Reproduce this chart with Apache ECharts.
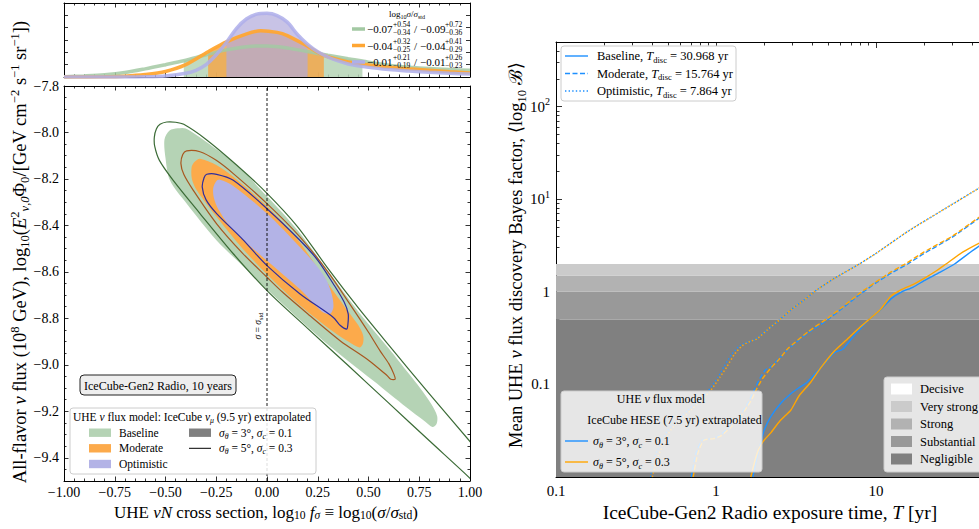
<!DOCTYPE html>
<html><head><meta charset="utf-8"><title>chart</title>
<script src="https://cdn.jsdelivr.net/npm/echarts@6.0.0/dist/echarts.min.js"></script>
<style>html,body{margin:0;padding:0;background:#fff;}#chart{width:979px;height:529px;}</style>
</head><body><div id="chart"></div><script>
// ================= DATA =================
// Top marginal panel: posterior of log10 f_sigma
const margBaseline = [[-1.0,0.03],[-0.9,0.09],[-0.8,0.18],[-0.7,0.36],[-0.6,0.66],[-0.5,1.0],[-0.41,1.32],[-0.3,1.8],[-0.2,2.2],[-0.1,2.45],[-0.05,2.52],[0.0,2.52],[0.1,2.36],[0.2,2.06],[0.3,1.76],[0.4,1.48],[0.47,1.3],[0.5,1.2],[0.6,0.96],[0.7,0.8],[0.8,0.68],[0.9,0.6],[1.0,0.54]];
const margModerate = [[-1.0,0.0],[-0.8,0.02],[-0.7,0.07],[-0.6,0.2],[-0.5,0.45],[-0.4,1.0],[-0.29,2.05],[-0.2,2.85],[-0.1,3.5],[-0.03,3.76],[0.05,3.62],[0.1,3.36],[0.2,2.5],[0.28,1.75],[0.4,1.22],[0.5,0.98],[0.6,0.8],[0.7,0.66],[0.8,0.54],[0.9,0.42],[1.0,0.32]];
const margOptimistic = [[-1.0,0.0],[-0.7,0.0],[-0.6,0.02],[-0.5,0.09],[-0.4,0.3],[-0.35,0.54],[-0.3,1.0],[-0.25,1.8],[-0.2,2.8],[-0.15,3.95],[-0.1,4.72],[-0.05,5.1],[0.0,5.16],[0.05,4.98],[0.1,4.45],[0.15,3.45],[0.2,2.65],[0.25,2.05],[0.3,1.62],[0.35,1.3],[0.4,1.06],[0.5,0.78],[0.6,0.6],[0.7,0.48],[0.8,0.38],[0.9,0.3],[1.0,0.24]];
const intBaseline = [-0.41, 0.47];
const intModerate = [-0.29, 0.28];
const intOptimistic = [-0.20, 0.20];
const margMed = [['\u22120.07','\u22120.09'],['\u22120.04','\u22120.04'],['\u22120.01','\u22120.01']];
const margUp  = [['+0.54','+0.72'],['+0.32','+0.41'],['+0.21','+0.26']];
const margLo  = [['\u22120.34','\u22120.36'],['\u22120.25','\u22120.29'],['\u22120.19','\u22120.23']];

// Main left panel: credible contours (log10 f_sigma, log10 flux)
const baselineFill = [[-0.505,-8.03],[-0.48,-7.992],[-0.44,-7.982],[-0.40,-7.983],[-0.30,-8.04],[-0.15,-8.14],[0.0,-8.275],[0.15,-8.42],[0.3,-8.595],[0.45,-8.77],[0.6,-8.93],[0.7,-9.04],[0.754,-9.1],[0.81,-9.17],[0.838,-9.22],[0.835,-9.255],[0.815,-9.268],[0.78,-9.245],[0.688,-9.184],[0.524,-9.069],[0.277,-8.896],[0.015,-8.688],[-0.1,-8.59],[-0.248,-8.465],[-0.396,-8.306],[-0.478,-8.206],[-0.5,-8.11]];
const baselineLine = [[-0.555,-8.02],[-0.545,-7.985],[-0.527,-7.965],[-0.494,-7.955],[-0.45,-7.956],[-0.41,-7.965],[-0.3,-8.03],[-0.15,-8.14],[0.0,-8.262],[0.15,-8.405],[0.3,-8.585],[0.45,-8.755],[0.6,-8.915],[0.8,-9.125],[1.0,-9.33],[1.12,-9.45],[1.12,-9.59],[1.0,-9.488],[0.8,-9.327],[0.6,-9.165],[0.4,-9.003],[0.2,-8.843],[0.005,-8.685],[-0.166,-8.522],[-0.33,-8.349],[-0.462,-8.206],[-0.53,-8.12],[-0.553,-8.06]];
const moderateFill = [[-0.371,-8.148],[-0.355,-8.125],[-0.33,-8.113],[-0.25,-8.14],[-0.166,-8.191],[0.0,-8.318],[0.15,-8.46],[0.3,-8.65],[0.4,-8.77],[0.45,-8.83],[0.474,-8.875],[0.472,-8.91],[0.455,-8.925],[0.4,-8.9],[0.3,-8.84],[0.15,-8.735],[0.0,-8.61],[-0.12,-8.5],[-0.248,-8.364],[-0.346,-8.249],[-0.37,-8.2]];
const moderateLine = [[-0.424,-8.134],[-0.415,-8.095],[-0.396,-8.079],[-0.33,-8.083],[-0.25,-8.12],[-0.166,-8.177],[0.0,-8.306],[0.163,-8.45],[0.3,-8.6],[0.409,-8.74],[0.5,-8.86],[0.557,-8.94],[0.6,-8.995],[0.625,-9.04],[0.631,-9.062],[0.61,-9.062],[0.59,-9.045],[0.5,-8.98],[0.36,-8.896],[0.2,-8.78],[0.08,-8.69],[0.0,-8.623],[-0.12,-8.52],[-0.248,-8.393],[-0.363,-8.249],[-0.41,-8.18]];
const optimisticFill = [[-0.265,-8.24],[-0.25,-8.21],[-0.232,-8.203],[-0.166,-8.23],[0.0,-8.349],[0.163,-8.494],[0.25,-8.58],[0.294,-8.637],[0.32,-8.7],[0.327,-8.752],[0.31,-8.781],[0.27,-8.77],[0.163,-8.675],[0.0,-8.552],[-0.166,-8.422],[-0.24,-8.33],[-0.262,-8.28]];
const optimisticLine = [[-0.319,-8.235],[-0.31,-8.195],[-0.297,-8.18],[-0.248,-8.18],[-0.166,-8.206],[0.0,-8.328],[0.163,-8.465],[0.25,-8.55],[0.327,-8.652],[0.38,-8.73],[0.4,-8.781],[0.398,-8.83],[0.392,-8.846],[0.36,-8.83],[0.327,-8.796],[0.163,-8.695],[0.0,-8.573],[-0.12,-8.46],[-0.248,-8.349],[-0.3,-8.29]];
const sigmaStdLine = [[0,-9.5],[0,-7.8]];

// Right panel: mean log10 Bayes factor vs exposure time T [yr]
const optBlue = [[0.39,0.01],[0.41,0.016],[0.5,0.032],[0.67,0.053],[0.89,0.085],[1.03,0.12],[1.12,0.155],[1.25,0.21],[1.4,0.26],[1.6,0.29],[1.75,0.305],[2.1,0.39],[2.5,0.5],[2.94,0.64],[3.5,0.8],[4.3,1.06],[5.5,1.4],[7.864,2.0],[10,2.6],[15.8,4.5],[25,7.3],[44.7,13.4],[50,15]];
const optOrange = [[0.4,0.01],[0.43,0.016],[0.52,0.032],[0.7,0.053],[0.92,0.085],[1.06,0.12],[1.17,0.155],[1.3,0.21],[1.45,0.26],[1.62,0.29],[1.8,0.31],[2.1,0.39],[2.5,0.5],[2.94,0.64],[3.5,0.8],[4.3,1.06],[5.5,1.4],[7.864,2.0],[10,2.6],[15.8,4.5],[25,7.3],[44.7,13.4],[50,15]];
const modBlue = [[0.7,0.01],[0.75,0.018],[0.82,0.025],[0.95,0.026],[1.05,0.028],[1.2,0.034],[1.4,0.045],[1.6,0.065],[1.75,0.09],[1.9,0.12],[2.05,0.145],[2.15,0.15],[2.4,0.18],[2.82,0.24],[3.76,0.36],[5,0.5],[6,0.64],[8,0.95],[10,1.25],[12.5,1.6],[15.764,2.0],[20,2.6],[30,3.9],[44.7,6.35],[50,7.1]];
const modOrange = [[0.72,0.01],[0.77,0.018],[0.84,0.025],[0.97,0.026],[1.08,0.028],[1.25,0.035],[1.45,0.047],[1.65,0.066],[1.8,0.09],[1.95,0.115],[2.2,0.15],[2.5,0.19],[2.82,0.245],[3.76,0.37],[5,0.52],[6,0.66],[8,0.98],[10,1.28],[12.5,1.65],[15.2,2.0],[20,2.7],[30,4.0],[44.7,6.5],[50,7.3]];
const baseBlue = [[1.7,0.01],[1.8,0.016],[1.9,0.023],[2.0,0.032],[2.2,0.045],[2.55,0.063],[2.9,0.078],[3.3,0.092],[3.7,0.105],[4.5,0.15],[5.5,0.22],[6.2,0.24],[7,0.31],[8,0.4],[9,0.5],[10.7,0.64],[12.5,0.85],[14.5,1.0],[17,1.12],[20,1.32],[25,1.62],[30.968,2.0],[38,2.6],[44.7,3.17],[50,3.5]];
const baseOrange = [[1.65,0.01],[1.75,0.015],[1.85,0.02],[2.0,0.025],[2.2,0.03],[2.5,0.04],[2.94,0.053],[3.3,0.075],[3.9,0.105],[4.5,0.15],[5.5,0.23],[6.5,0.3],[8,0.42],[9,0.5],[10.7,0.65],[12.4,0.9],[14.3,1.05],[17,1.2],[20,1.4],[24,1.7],[27.4,2.0],[35,2.7],[44.7,3.4],[50,3.7]];
const bandLo = [0.01, 0.5, 1.0, 1.5];
const bandHi = [0.5, 1.0, 1.5, 2.0];
const bandNames = ['Decisive','Very strong','Strong','Substantial','Negligible'];
const modelNames = ['Baseline','Moderate','Optimistic'];
const tDisc = ['30.968','15.764','7.864'];

// Tick values / labels
const leftXTicks = [-1,-0.75,-0.5,-0.25,0,0.25,0.5,0.75,1];
const leftYTicks = [-9.4,-9.2,-9.0,-8.8,-8.6,-8.4,-8.2,-8.0,-7.8];
const margYTicks = [1,2,3,4,5];
const rightXTicks = [0.1,1,10,100];
const rightXLabels = [0.1,1,10];
const rightYTicks = [0.01,0.1,1,10,100];
const rightYLabels = [0.1,1,10,100];

// ================= STYLE =================
const SERIF = '"Liberation Serif","DejaVu Serif",serif';
const C_GREEN_F = '#b5d3b5', C_GREEN_L = '#3b6b36';
const C_ORANGE_F = '#fcaa4b', C_ORANGE_L = '#a8571f';
const C_LAV_F = '#b3b3e6', C_LAV_L = '#2d2d9e';
const C_BLUE = '#1e90ff', C_ORG = '#ffa500';
const bandColors = ['#ffffff','#cbcbcb','#b2b2b2','#999999','#808080'];
const bandFill = ['#808080','#999999','#b2b2b2','#cbcbcb'];

function rich(fs){
  const s = Math.round(fs*0.68*10)/10;
  return {
    i:{fontFamily:SERIF, fontSize:fs, fontStyle:'italic', fill:'#000'},
    b:{fontFamily:SERIF, fontSize:s, verticalAlign:'bottom', fill:'#000'},
    t:{fontFamily:SERIF, fontSize:s, verticalAlign:'top', fill:'#000'},
    bi:{fontFamily:SERIF, fontSize:s, fontStyle:'italic', verticalAlign:'bottom', fill:'#000'}
  };
}
function txt(x, y, text, fs, align, rot, lh){
  return {type:'text', x:x, y:y, rotation:rot||0, z:102, silent:true,
    style:{text:text, fill:'#000', fontFamily:SERIF, fontSize:fs, lineHeight:lh || Math.round(fs*1.3),
      align:align||'left', textAlign:align||'left', verticalAlign:'middle', textVerticalAlign:'middle', rich:rich(fs)}};
}
function rect(x,y,w,h,fill,stroke,r,lw){
  return {type:'rect', z:101, silent:true, shape:{x:x,y:y,width:w,height:h,r:r||0},
    style:{fill:fill, stroke:stroke||null, lineWidth:lw||(stroke?1:0)}};
}
function seg(x1,y1,x2,y2,color,lw,dash){
  return {type:'line', z:102, silent:true, shape:{x1:x1,y1:y1,x2:x2,y2:y2},
    style:{stroke:color, lineWidth:lw, lineDash:dash||null, lineCap:'butt'}};
}
function fmtMinus(v,d){ return (v < -1e-9 ? '\u2212' : '') + Math.abs(v).toFixed(d); }

const tickLine = {color:'#000', width:0.8};
const hiddenLine = {show:false, onZero:false};
function axisBase(o){
  return Object.assign({splitLine:{show:false}, axisPointer:{show:false},
    axisLine:{show:true, onZero:false, lineStyle:{color:'#000', width:1}},
    axisTick:{show:true, inside:true, length:4.5, lineStyle:tickLine},
    axisLabel:{show:false}}, o);
}
function minorList(lo, hi, step, majors){
  const out = [];
  for (let v = lo; v <= hi + 1e-9; v += step){
    const r = Math.round(v*100)/100;
    if (r <= lo + 1e-9 || r >= hi - 1e-9) continue;
    if (majors.some(m => Math.abs(m - r) < 1e-6)) continue;
    out.push(r);
  }
  return out;
}
function logMinor(decades, maxV){
  const out = [];
  decades.forEach(d => { for (let k = 2; k <= 9; k++){ const v = d*k; if (v < maxV) out.push(+v.toPrecision(3)); } });
  return out;
}
const leftYMinor = minorList(-9.5, -7.8, 0.05, leftYTicks);
const rightXMinor = logMinor([0.1,1,10], 100);
const rightYMinor = logMinor([0.01,0.1,1,10,100], 500);

const labelFont = {fontFamily:SERIF, fontSize:14, color:'#000'};

// ---- axes ----
const xAxes = [
  axisBase({type:'value', gridIndex:0, position:'bottom', min:-1, max:1, interval:0.25, minorTick:{show:true, splitNumber:5, length:2.5, lineStyle:tickLine}}),
  axisBase({type:'value', gridIndex:0, position:'top', min:-1, max:1, interval:0.25, minorTick:{show:true, splitNumber:5, length:2.5, lineStyle:tickLine}}),
  axisBase({type:'value', gridIndex:1, position:'bottom', min:-1, max:1, interval:0.25, minorTick:{show:true, splitNumber:5, length:2.5, lineStyle:tickLine},
    axisLabel:Object.assign({show:true, margin:4, formatter:v => fmtMinus(v,2)}, labelFont)}),
  axisBase({type:'value', gridIndex:1, position:'top', min:-1, max:1, interval:0.25, minorTick:{show:true, splitNumber:5, length:2.5, lineStyle:tickLine}}),
  axisBase({type:'log', logBase:10, gridIndex:2, position:'bottom', min:0.1, max:100,
    axisTick:{show:true, inside:true, length:6, lineStyle:tickLine, customValues:rightXTicks},
    axisLabel:Object.assign({show:true, margin:6, customValues:rightXLabels, formatter:v => (Math.abs(v-0.1)<1e-6 ? '0.1' : String(Math.round(v)))}, labelFont, {fontSize:15})}),
  axisBase({type:'log', logBase:10, gridIndex:2, position:'top', min:0.1, max:100,
    axisTick:{show:true, inside:true, length:6, lineStyle:tickLine, customValues:rightXTicks}}),
  axisBase({type:'log', logBase:10, gridIndex:2, position:'bottom', min:0.1, max:100, axisLine:hiddenLine,
    axisTick:{show:true, inside:true, length:3.5, lineStyle:tickLine, customValues:rightXMinor}}),
  axisBase({type:'log', logBase:10, gridIndex:2, position:'top', min:0.1, max:100, axisLine:hiddenLine,
    axisTick:{show:true, inside:true, length:3.5, lineStyle:tickLine, customValues:rightXMinor}})
];
const yRich = {
  n:{fontFamily:SERIF, fontSize:15, lineHeight:20},
  p:{fontFamily:SERIF, fontSize:10, verticalAlign:'top', lineHeight:20}
};
const yAxes = [
  axisBase({type:'value', gridIndex:0, position:'left', min:0, max:6, axisTick:{show:true, inside:true, length:4, lineStyle:tickLine, customValues:margYTicks}}),
  axisBase({type:'value', gridIndex:0, position:'right', min:0, max:6, axisTick:{show:true, inside:true, length:4, lineStyle:tickLine, customValues:margYTicks}}),
  axisBase({type:'value', gridIndex:1, position:'left', min:-9.5, max:-7.8,
    axisTick:{show:true, inside:true, length:4.5, lineStyle:tickLine, customValues:leftYTicks},
    axisLabel:Object.assign({show:true, margin:5, customValues:leftYTicks, formatter:v => fmtMinus(v,1)}, labelFont)}),
  axisBase({type:'value', gridIndex:1, position:'right', min:-9.5, max:-7.8,
    axisTick:{show:true, inside:true, length:4.5, lineStyle:tickLine, customValues:leftYTicks}}),
  axisBase({type:'value', gridIndex:1, position:'left', min:-9.5, max:-7.8, axisLine:hiddenLine,
    axisTick:{show:true, inside:true, length:2.5, lineStyle:tickLine, customValues:leftYMinor}}),
  axisBase({type:'value', gridIndex:1, position:'right', min:-9.5, max:-7.8, axisLine:hiddenLine,
    axisTick:{show:true, inside:true, length:2.5, lineStyle:tickLine, customValues:leftYMinor}}),
  axisBase({type:'log', logBase:10, gridIndex:2, position:'left', min:0.01, max:500,
    axisTick:{show:true, inside:true, length:6, lineStyle:tickLine, customValues:rightYTicks},
    axisLabel:{show:true, margin:6, customValues:rightYLabels, fontFamily:SERIF, fontSize:15, color:'#000', rich:yRich,
      formatter:v => {
        if (Math.abs(v-10) < 1e-6) return '{n|10}{p|1}';
        if (Math.abs(v-100) < 1e-6) return '{n|10}{p|2}';
        if (Math.abs(v-0.1) < 1e-9) return '{n|0.1}';
        return '{n|' + String(Math.round(v)) + '}';
      }}}),
  axisBase({type:'log', logBase:10, gridIndex:2, position:'left', min:0.01, max:500, axisLine:hiddenLine,
    axisTick:{show:true, inside:true, length:3.5, lineStyle:tickLine, customValues:rightYMinor}})
];

// ---- series ----
function margLine(data, color, w, op){
  return {type:'line', xAxisIndex:0, yAxisIndex:0, data:data, showSymbol:false, smooth:0.3, z:4, silent:true,
    lineStyle:{color:color, width:w, opacity:op}};
}
function margFill(data, range, color, op, z){
  const d = data.filter(p => p[0] >= range[0]-1e-9 && p[0] <= range[1]+1e-9);
  return {type:'line', xAxisIndex:0, yAxisIndex:0, data:d, showSymbol:false, smooth:0.3, z:z, silent:true,
    lineStyle:{width:0, opacity:0}, areaStyle:{color:color, opacity:op, origin:'start'}};
}
function polySeries(pts, fill, stroke, lw, z){
  return {type:'custom', xAxisIndex:2, yAxisIndex:2, z:z, silent:true, data:pts,
    renderItem:function(params, api){
      if (params.dataIndex !== 0) return null;
      const cs = params.coordSys;
      const coords = pts.map(p => api.coord(p));
      return {type:'group', clipPath:{type:'rect', shape:{x:cs.x, y:cs.y, width:cs.width, height:cs.height}},
        children:[{type:'polygon', shape:{points:coords, smooth:0.3},
          style:{fill:fill || 'none', stroke:stroke || 'none', lineWidth:lw || 0}}]};
    }};
}
function bayesLine(data, color, type){
  return {type:'line', xAxisIndex:4, yAxisIndex:6, data:data, showSymbol:false, smooth:0.2, z:3, silent:true,
    lineStyle:{color:color, width:1.4, type:type, cap:'butt'}};
}
const bandSeries = {type:'custom', xAxisIndex:4, yAxisIndex:6, z:1, silent:true,
  data:bandLo.map((lo,i) => [lo, bandHi[i]]),
  renderItem:function(params, api){
    const lo = api.value(0), hi = api.value(1);
    const cs = params.coordSys;
    const p1 = api.coord([0.1, hi]);
    const p2 = api.coord([100, lo]);
    return {type:'rect', shape:{x:p1[0], y:p1[1], width:p2[0]-p1[0], height:p2[1]-p1[1]},
      style:{fill:bandFill[params.dataIndex]},
      clipPath:{type:'rect', shape:{x:cs.x, y:cs.y, width:cs.width, height:cs.height}}};
  }};

const series = [
  margFill(margBaseline, intBaseline, C_GREEN_F, 0.85, 2),
  margFill(margModerate, intModerate, '#f5a443', 0.8, 2),
  margFill(margOptimistic, intOptimistic, '#b0aadc', 0.7, 3),
  margLine(margBaseline, '#a3c9a3', 3.5, 0.85),
  margLine(margModerate, '#ffa633', 3.5, 0.95),
  margLine(margOptimistic, '#aeaeea', 3.5, 0.85),

  polySeries(baselineFill, C_GREEN_F, null, 0, 2),
  polySeries(moderateFill, C_ORANGE_F, null, 0, 3),
  polySeries(optimisticFill, C_LAV_F, null, 0, 4),
  polySeries(baselineLine, null, C_GREEN_L, 1.2, 5),
  polySeries(moderateLine, null, C_ORANGE_L, 1.2, 5),
  polySeries(optimisticLine, null, C_LAV_L, 1.2, 5),
  {type:'line', xAxisIndex:2, yAxisIndex:2, data:sigmaStdLine, showSymbol:false, z:6, silent:true,
    lineStyle:{color:'#000', width:0.9, type:[3,2]}},

  bandSeries,
  bayesLine(baseBlue, C_BLUE, 'solid'),
  bayesLine(modBlue, C_BLUE, [5,2.5]),
  bayesLine(optBlue, C_BLUE, [1.4,2.2]),
  bayesLine(baseOrange, C_ORG, 'solid'),
  bayesLine(modOrange, C_ORG, [5,2.5]),
  bayesLine(optOrange, C_ORG, [1.4,2.2])
];

// ---- graphic (legends, annotations, axis titles) ----
const G = [];
G.push(txt(407, 14, 'log{b|10}{i|σ}/{i|σ}{b|std}', 9, 'center'));
const margRowY = [29, 45.5, 62];
const margLegColor = ['#a3c9a3', '#ffa633', '#aeaeea'];
margRowY.forEach((py, r) => {
  G.push(seg(352, py, 365, py, margLegColor[r], 3.5));
  G.push(txt(367, py, margMed[r][0], 11, 'left', 0, 12));
  G.push(txt(393, py-4.5, margUp[r][0], 7.5, 'left', 0, 8));
  G.push(txt(393, py+3.5, margLo[r][0], 7.5, 'left', 0, 8));
  G.push(txt(414, py, '/', 11, 'left', 0, 12));
  G.push(txt(420, py, margMed[r][1], 11, 'left', 0, 12));
  G.push(txt(445, py-4.5, margUp[r][1], 7.5, 'left', 0, 8));
  G.push(txt(445, py+3.5, margLo[r][1], 7.5, 'left', 0, 8));
});
G.push(txt(258, 326, '{i|σ} = {i|σ}{b|std}', 9.5, 'center', Math.PI/2));
G.push(rect(80, 375, 156, 20, '#eeeeee', '#222', 4, 1));
G.push(txt(158, 385.5, 'IceCube-Gen2 Radio, 10 years', 12, 'center'));
G.push(rect(70, 408, 246, 66, 'rgba(255,255,255,0.85)', '#cccccc', 3, 1));
G.push(txt(73, 417, 'UHE {i|ν} flux model: IceCube {i|ν}{bi|μ} (9.5 yr) extrapolated', 11.5));
const legRowY = [432.7, 448.3, 464];
const legFill = [C_GREEN_F, C_ORANGE_F, C_LAV_F];
legRowY.forEach((py, r) => {
  G.push(rect(89, py-4.2, 22, 8.4, legFill[r]));
  G.push(txt(119, py, modelNames[r], 11.5));
});
G.push(rect(189, legRowY[0]-4.2, 22, 8.4, '#808080'));
G.push(txt(219, legRowY[0], '{i|σ}{bi|θ} = 3°, {i|σ}{bi|c} = 0.1', 11.5));
G.push(seg(189, legRowY[1], 211, legRowY[1], '#000', 1));
G.push(txt(219, legRowY[1], '{i|σ}{bi|θ} = 5°, {i|σ}{bi|c} = 0.3', 11.5));
// axis titles left
G.push(txt(266, 512, 'UHE {i|νN} cross section, log{b|10} {i|f}{bi|σ} ≡ log{b|10}({i|σ}/{i|σ}{b|std})', 17, 'center', 0, 19));
G.push(txt(20, 252, 'All-flavor {i|ν} flux (10{t|8} GeV), log{b|10}({i|E}{t|2}{bi|ν,0}Φ{b|0}/[GeV cm{t|−2} s{t|−1} sr{t|−1}])', 18.5, 'center', Math.PI/2, 23));
// right panel legends
G.push(rect(561, 46, 175, 55, '#ffffff', '#cccccc', 3, 1));
const rRowY = [56, 73.5, 91];
const rDash = [null, [5,2.5], [1.4,2.2]];
rRowY.forEach((py, r) => {
  G.push(seg(565, py, 588, py, C_BLUE, 1.4, rDash[r]));
  G.push(txt(597, py, modelNames[r] + ', {i|T}{b|disc} = ' + tDisc[r] + ' yr', 12.5, 'left', 0, 16));
});
G.push(rect(561, 391, 201, 81, 'rgba(255,255,255,0.8)', '#cccccc', 3, 1));
G.push(txt(661, 398.5, 'UHE {i|ν} flux model', 12, 'center', 0, 15));
G.push(txt(674.5, 420, 'IceCube HESE (7.5 yr) extrapolated', 12, 'center', 0, 15));
G.push(seg(565, 441, 588, 441, C_BLUE, 1.4));
G.push(txt(593, 441, '{i|σ}{bi|θ} = 3°, {i|σ}{bi|c} = 0.1', 12, 'left', 0, 16));
G.push(seg(565, 462, 588, 462, C_ORG, 1.4));
G.push(txt(593, 462, '{i|σ}{bi|θ} = 5°, {i|σ}{bi|c} = 0.3', 12, 'left', 0, 16));
G.push(rect(884, 377, 130, 95, 'rgba(255,255,255,0.8)', '#cccccc', 3, 1));
const bRowY = [389, 406.5, 424, 441.5, 459];
bRowY.forEach((py, r) => {
  G.push(rect(891, py-5.5, 21, 11, bandColors[r]));
  G.push(txt(920, py, bandNames[r], 12.5, 'left', 0, 15));
});
// axis titles right
G.push(txt(770, 512, 'IceCube-Gen2 Radio exposure time, {i|T} [yr]', 19.5, 'center', 0, 22));
G.push(txt(516, 255, 'Mean UHE {i|ν} flux discovery Bayes factor, ⟨log{b|10} ℬ⟩', 18.5, 'center', Math.PI/2, 24));

const option = {
  animation:false,
  backgroundColor:'#ffffff',
  grid:[
    {left:64, top:3, width:406, height:74, containLabel:false, outerBoundsMode:'none'},
    {left:64, top:86, width:406, height:395, containLabel:false, outerBoundsMode:'none'},
    {left:556, top:42, width:480, height:435, containLabel:false, outerBoundsMode:'none'}
  ],
  xAxis:xAxes,
  yAxis:yAxes,
  series:series,
  graphic:{elements:G}
};
const chart = echarts.init(document.getElementById('chart'), null, {renderer:'svg', width:979, height:529});
chart.setOption(option);
</script></body></html>
